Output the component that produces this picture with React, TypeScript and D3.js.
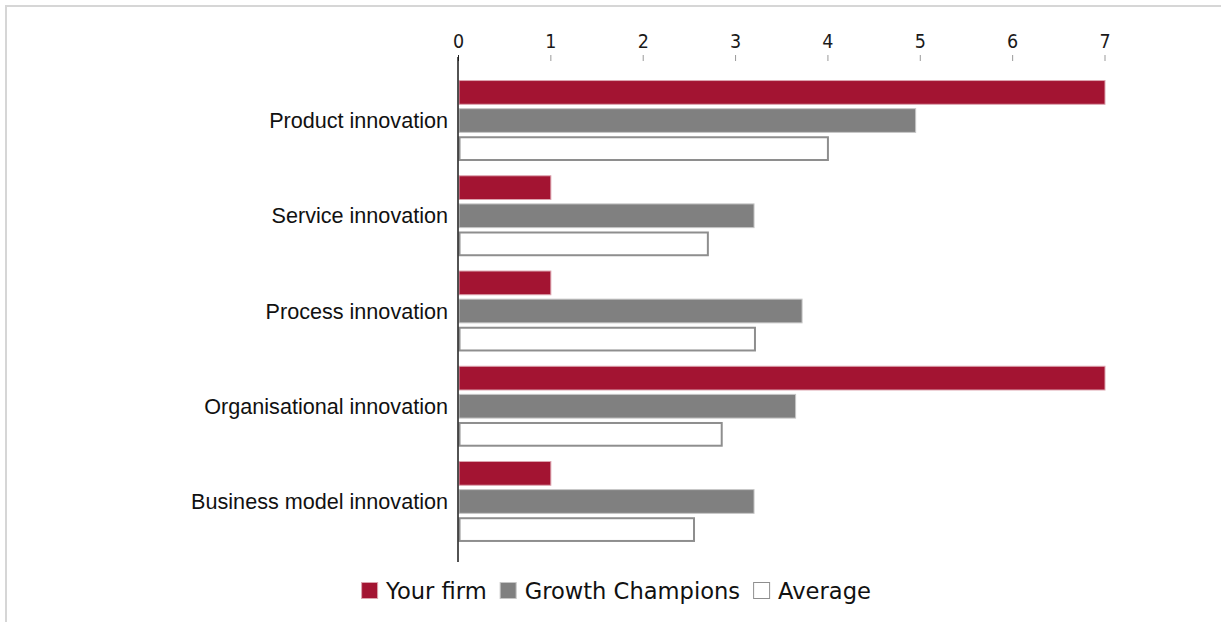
import React, { useLayoutEffect, useRef, useState } from "react";
import * as d3 from "d3";

const categories = [
  "Product innovation",
  "Service innovation",
  "Process innovation",
  "Organisational innovation",
  "Business model innovation",
];
const seriesNames = ["Your firm", "Growth Champions", "Average"];
const yourFirm = [7, 1, 1, 7, 1];
const growthChampions = [4.95, 3.2, 3.72, 3.65, 3.2];
const average = [4.0, 2.7, 3.21, 2.85, 2.55];
const xTicks = [0, 1, 2, 3, 4, 5, 6, 7];

const seriesFill = ["#a31432", "#808080", "#ffffff"];
const seriesStroke = ["#dca4af", "#c6c6c6", "#8e8e8e"];
const seriesStrokeW = [1, 1, 2];

const W = 1221;
const H = 622;

export default function App() {
  const seriesValues = [yourFirm, growthChampions, average];
  const x = d3.scaleLinear().domain([0, 7]).range([458.5, 1105]);
  const y0 = d3
    .scaleBand<string>()
    .domain(categories)
    .range([72.9, 549.1])
    .paddingInner(0.15)
    .paddingOuter(0.075);
  const y1 = d3
    .scaleBand<string>()
    .domain(seriesNames)
    .range([0, y0.bandwidth()])
    .paddingInner(0.12);

  const textRefs = useRef<(SVGTextElement | null)[]>([]);
  const [widths, setWidths] = useState<number[]>([103, 215, 90]);
  useLayoutEffect(() => {
    const w = textRefs.current.map((t) => (t ? t.getComputedTextLength() : 0));
    if (w.every((v) => v > 0)) setWidths(w);
  }, []);

  const sq = 17;
  const textGap = 25;
  const itemGap = 13;
  const totalLegend =
    widths.reduce((a, b) => a + b, 0) + seriesNames.length * textGap + (seriesNames.length - 1) * itemGap;
  const legendCenter = 616;
  let lx = legendCenter - totalLegend / 2;
  const legendX: number[] = [];
  widths.forEach((w) => {
    legendX.push(lx);
    lx += textGap + w + itemGap;
  });

  return (
    <svg
      width={W}
      height={H}
      style={{ position: "absolute", left: 0, top: 0, background: "#fff" }}
    >
      <rect x={6} y={6} width={W + 20} height={H + 20} fill="#fff" stroke="#d6d6d6" strokeWidth={2} />

      {/* tick labels and tick marks */}
      {xTicks.map((t) => (
        <g key={t}>
          <text
            x={x(t)}
            y={48}
            textAnchor="middle"
            fontFamily="'Liberation Sans Narrow', 'DejaVu Sans Condensed', sans-serif"
            fontSize={19.5}
            fill="#1a1a1a"
          >
            {t}
          </text>
          <line x1={x(t)} x2={x(t)} y1={55} y2={61} stroke={t === 0 ? "#222" : "#999"} strokeWidth={1} />
        </g>
      ))}

      {/* bars */}
      {categories.map((c, ci) => (
        <g key={c} transform={`translate(0,${y0(c)})`}>
          {seriesNames.map((s, si) => {
            const v = seriesValues[si][ci];
            const sw = seriesStrokeW[si];
            const bx = x(0) + sw / 2;
            const bw = x(v) - x(0) - sw / 2;
            const by = (y1(s) as number) + sw / 2;
            const bh = y1.bandwidth() - sw;
            return (
              <rect
                key={s}
                x={bx}
                y={by}
                width={bw}
                height={bh}
                fill={seriesFill[si]}
                stroke={seriesStroke[si]}
                strokeWidth={sw}
              />
            );
          })}
          <text
            x={448}
            y={y0.bandwidth() / 2}
            dy="0.35em"
            textAnchor="end"
            fontFamily="'Liberation Sans', Arial, sans-serif"
            fontSize={21.6}
            fill="#111"
          >
            {c}
          </text>
        </g>
      ))}

      {/* axis line */}
      <line x1={458} x2={458} y1={57} y2={562} stroke="#1a1a1a" strokeWidth={1.5} />

      {/* legend */}
      {seriesNames.map((s, si) => (
        <g key={s}>
          <rect
            x={legendX[si] + 0.5}
            y={582.5}
            width={sq - 1}
            height={sq - 1}
            fill={seriesFill[si]}
            stroke={si === 2 ? "#8e8e8e" : seriesStroke[si]}
            strokeWidth={1}
          />
          <text
            ref={(el) => {
              textRefs.current[si] = el;
            }}
            x={legendX[si] + textGap}
            y={598.5}
            fontFamily="'DejaVu Sans', sans-serif"
            fontSize={22.6}
            fill="#111"
          >
            {s}
          </text>
        </g>
      ))}
    </svg>
  );
}
